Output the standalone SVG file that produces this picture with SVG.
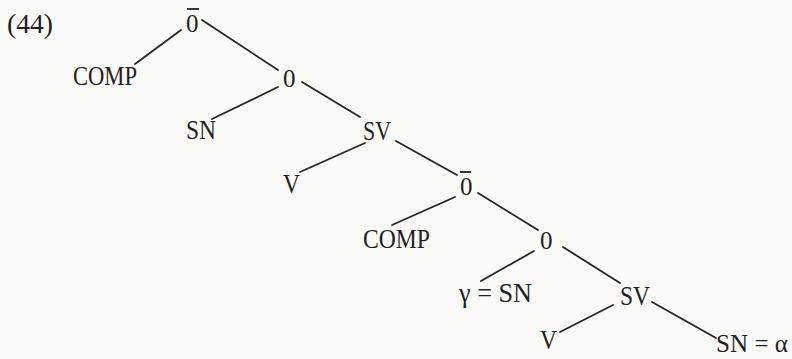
<svg xmlns="http://www.w3.org/2000/svg" width="792" height="359" viewBox="0 0 792 359">
<style>
.bg{fill:#fafaf8}
.t{font-family:"Liberation Serif","Times New Roman",serif;font-size:27px;fill:#231f20}
.n{font-family:"Liberation Serif","Times New Roman",serif;font-size:25px;fill:#231f20}
.e{stroke:#262324;stroke-width:1.8;stroke-linecap:round;fill:none}
.bar{stroke:#231f20;stroke-width:1.8}
</style>
<rect class="bg" x="0" y="0" width="792" height="359"/>
<g id="label44"><text class="t" x="7" y="33" textLength="46" lengthAdjust="spacingAndGlyphs">(44)</text></g>
<g id="connectors">
<line class="e" x1="181" y1="30" x2="135" y2="64"/>
<line class="e" x1="202" y1="20" x2="278" y2="70"/>
<line class="e" x1="278" y1="87" x2="212" y2="119"/>
<line class="e" x1="302" y1="82" x2="360" y2="117"/>
<line class="e" x1="365" y1="143" x2="300" y2="172"/>
<line class="e" x1="396" y1="141" x2="457" y2="175"/>
<line class="e" x1="455" y1="197" x2="392" y2="225"/>
<line class="e" x1="478" y1="193" x2="538" y2="230"/>
<line class="e" x1="534" y1="251" x2="481" y2="281"/>
<line class="e" x1="563" y1="247" x2="620" y2="283"/>
<line class="e" x1="613" y1="305" x2="560" y2="332"/>
<line class="e" x1="652" y1="302" x2="716" y2="338"/>
</g>
<g id="obar1"><text class="n" x="186" y="32">0</text><line class="bar" x1="187" y1="9" x2="199" y2="9"/></g>
<g id="comp1"><text class="t" x="73" y="85" textLength="64" lengthAdjust="spacingAndGlyphs">COMP</text></g>
<g id="o1"><text class="n" x="283" y="87">0</text></g>
<g id="sn1"><text class="t" x="186" y="139" textLength="30" lengthAdjust="spacingAndGlyphs">SN</text></g>
<g id="sv1"><text class="t" x="363" y="140" textLength="28" lengthAdjust="spacingAndGlyphs">SV</text></g>
<g id="v1"><text class="t" x="283" y="193" textLength="17" lengthAdjust="spacingAndGlyphs">V</text></g>
<g id="obar2"><text class="n" x="460" y="195">0</text><line class="bar" x1="460" y1="172" x2="471" y2="172"/></g>
<g id="comp2"><text class="t" x="363" y="248" textLength="67" lengthAdjust="spacingAndGlyphs">COMP</text></g>
<g id="o2"><text class="n" x="540" y="249">0</text></g>
<g id="gsn"><text class="t" x="459" y="302" textLength="73" lengthAdjust="spacingAndGlyphs">γ = SN</text></g>
<g id="sv2"><text class="t" x="620" y="305" textLength="30" lengthAdjust="spacingAndGlyphs">SV</text></g>
<g id="v2"><text class="t" x="540" y="349" textLength="17" lengthAdjust="spacingAndGlyphs">V</text></g>
<g id="sna"><text class="t" x="716" y="352" style="font-size:26px" textLength="72" lengthAdjust="spacingAndGlyphs">SN = α</text></g>
</svg>
